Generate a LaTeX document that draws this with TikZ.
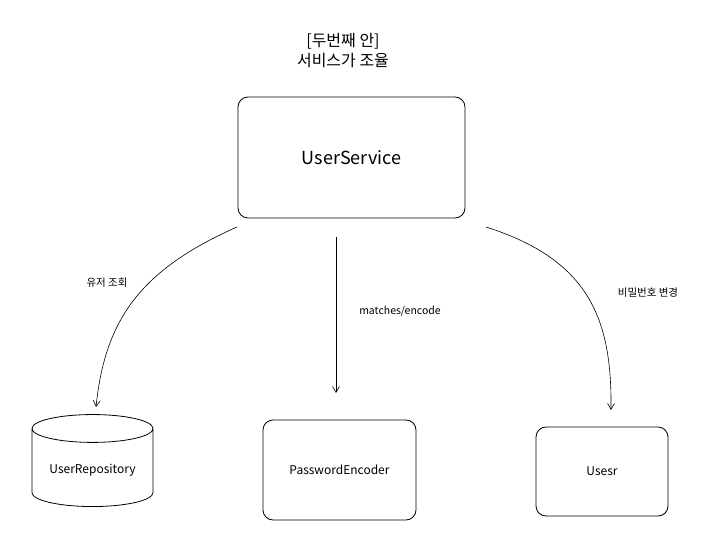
\documentclass[tikz,border=0pt]{standalone}
\usepackage{fontspec}
\setmainfont{Noto Sans CJK KR}[BoldFont={Noto Sans CJK KR Medium}]
\usetikzlibrary{shapes.geometric,arrows.meta}
\begin{document}
\begin{tikzpicture}[x=1pt,y=-1pt,
  box/.style={draw,line width=0.8pt,rounded corners=10pt,inner sep=0pt},
  arr/.style={-{Straight Barb[length=6pt,width=7pt]},line width=0.6pt},
  lbl/.style={font=\fontsize{10.5}{12}\selectfont}]
\useasboundingbox (0,0) rectangle (716,540);
\node[font=\fontsize{16}{20}\selectfont,align=center] (title) at (343,51) {[두번째 안]\\서비스가 조율};
\node[box,minimum width=227pt,minimum height=121pt,font=\fontsize{18}{21}\selectfont] (us) at (351.5,157.5) {UserService};
\node[draw,line width=0.8pt,cylinder,shape border rotate=90,aspect=0.3,minimum width=121pt,minimum height=92pt,font=\fontsize{12}{14}\selectfont] (repo) at (92.5,470) {UserRepository};
\node[box,minimum width=153pt,minimum height=100pt,font=\fontsize{12}{14}\selectfont] (pe) at (339.5,470) {PasswordEncoder};
\node[box,minimum width=132pt,minimum height=89pt,font=\fontsize{12}{14}\selectfont] (user) at (602,471.5) {Usesr};
\coordinate (a1) at (237,227);
\coordinate (a2) at (96,407);
\coordinate (b1) at (336,237);
\coordinate (b2) at (336,393);
\coordinate (c1) at (486,227);
\coordinate (c2) at (611,410);
\draw[arr] (a1) .. controls (140,270) and (105,320) .. (a2);
\draw[arr] (b1) -- (b2);
\draw[arr] (c1) .. controls (590,260) and (612,320) .. (c2);
\node[lbl] (l1) at (107,283) {유저 조회};
\node[lbl] (l2) at (400,311) {matches/encode};
\node[lbl] (l3) at (648,293) {비밀번호 변경};
\end{tikzpicture}
\end{document}
